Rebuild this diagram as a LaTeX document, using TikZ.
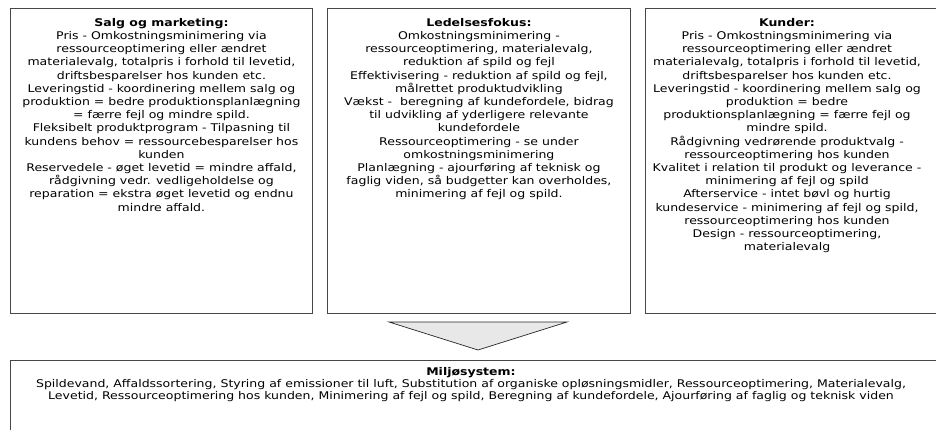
\documentclass[tikz,border=0pt]{standalone}
\usepackage{fontspec}
\setmainfont{DejaVu Sans}[FakeStretch=1.18]
\usetikzlibrary{positioning}
\tikzset{
  font=\fontsize{10.6}{13.2}\selectfont,
  panel/.style ={draw=black!72, line width=0.9pt, anchor=north west, inner sep=0pt},
  ptext/.style ={align=center, inner sep=0pt},
  flow/.style  ={draw=black!85, fill=black!9, line width=0.7pt, line join=miter},
}
\newcommand{\hd}[1]{\textbf{#1}}

\begin{document}
\begin{tikzpicture}[x=1pt, y=-1pt]
  \useasboundingbox (0,0) rectangle (936,429);
  \clip (0,0) rectangle (936,429);

  % three upper panels
  \node[panel, minimum width=302pt, minimum height=305pt] (salg) at (10,8) {};
  \node[panel, minimum width=303pt, minimum height=305pt] (ledelse) at (327,8) {};
  \node[panel, minimum width=300pt, minimum height=305pt] (kunder) at (645,8) {};

  \node[ptext, below=10pt of salg.north] (salgtxt) {%
    \hd{Salg og marketing:}\\
    Pris - Omkostningsminimering via\\
    ressourceoptimering eller ændret\\
    materialevalg, totalpris i forhold til levetid,\\
    driftsbesparelser hos kunden etc.\\
    Leveringstid - koordinering mellem salg og\\
    produktion = bedre produktionsplanlægning\\
    = færre fejl og mindre spild.\\
    Fleksibelt produktprogram - Tilpasning til\\
    kundens behov = ressourcebesparelser hos\\
    kunden\\
    Reservedele - øget levetid = mindre affald,\\
    rådgivning vedr. vedligeholdelse og\\
    reparation = ekstra øget levetid og endnu\\
    mindre affald.};

  \node[ptext, below=10pt of ledelse.north] (ledelsetxt) {%
    \hd{Ledelsesfokus:}\\
    Omkostningsminimering -\\
    ressourceoptimering, materialevalg,\\
    reduktion af spild og fejl\\
    Effektivisering - reduktion af spild og fejl,\\
    målrettet produktudvikling\\
    Vækst -\ \ beregning af kundefordele, bidrag\\
    til udvikling af yderligere relevante\\
    kundefordele\\
    Ressourceoptimering - se under\\
    omkostningsminimering\\
    Planlægning - ajourføring af teknisk og\\
    faglig viden, så budgetter kan overholdes,\\
    minimering af fejl og spild.};

  \node[ptext, anchor=north] (kundertxt) at (787,18) {%
    \hd{Kunder:}\\
    Pris - Omkostningsminimering via\\
    ressourceoptimering eller ændret\\
    materialevalg, totalpris i forhold til levetid,\\
    driftsbesparelser hos kunden etc.\\
    Leveringstid - koordinering mellem salg og\\
    produktion = bedre\\
    produktionsplanlægning = færre fejl og\\
    mindre spild.\\
    Rådgivning vedrørende produktvalg -\\
    ressourceoptimering hos kunden\\
    Kvalitet i relation til produkt og leverance -\\
    minimering af fejl og spild\\
    Afterservice - intet bøvl og hurtig\\
    kundeservice - minimering af fejl og spild,\\
    ressourceoptimering hos kunden\\
    Design - ressourceoptimering,\\
    materialevalg};

  % funnel
  \coordinate (fl) at (389,322);
  \coordinate (fr) at (567,322);
  \coordinate (fp) at (478,350);
  \draw[flow] (fl) -- (fr) -- (fp) -- cycle;

  % environment system
  \node[panel, minimum width=940pt, minimum height=100pt] (miljo) at (10,360) {};
  \node[ptext, anchor=north, font=\fontsize{10.6}{12.2}\selectfont] (miljotxt) at (471,367) {%
    \hd{Miljøsystem:}\\
    Spildevand, Affaldssortering, Styring af emissioner til luft, Substitution af organiske opløsningsmidler, Ressourceoptimering, Materialevalg,\\
    Levetid, Ressourceoptimering hos kunden, Minimering af fejl og spild, Beregning af kundefordele, Ajourføring af faglig og teknisk viden};
\end{tikzpicture}
\end{document}
